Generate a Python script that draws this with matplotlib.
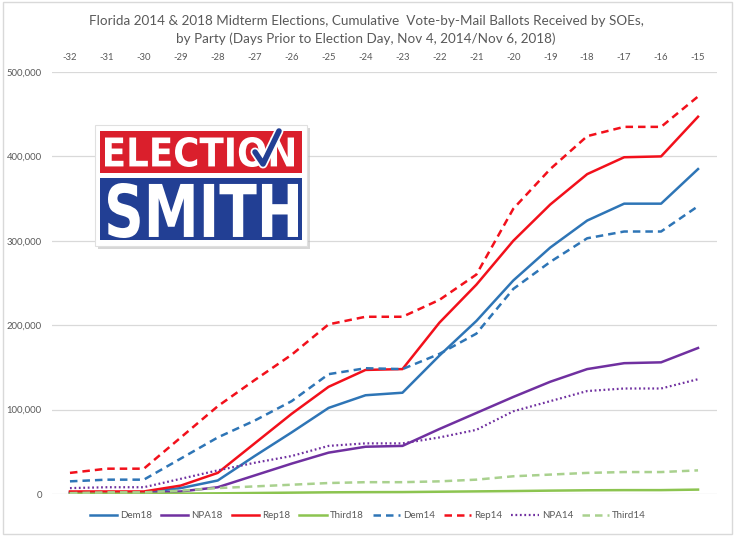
import matplotlib.pyplot as plt
import matplotlib.patches as mpatches
from matplotlib.textpath import TextPath
from matplotlib.font_manager import FontProperties
from matplotlib.transforms import Affine2D
from matplotlib.ticker import FuncFormatter

# days prior to election day
days = [-32, -31, -30, -29, -28, -27, -26, -25, -24, -23, -22, -21, -20, -19, -18, -17, -16, -15]

# cumulative VBM ballots received
dem18 = [2000, 2000, 2000, 7000, 16000, 45000, 73000, 102000, 117000, 120000, 164000, 205000, 253000, 292000, 324000, 344000, 344000, 385000]
npa18 = [1000, 1000, 1000, 3000, 8000, 22000, 36000, 49000, 56000, 57000, 77000, 96000, 115000, 133000, 148000, 155000, 156000, 173000]
rep18 = [3000, 3000, 3000, 10000, 25000, 60000, 95000, 127000, 147000, 148000, 203000, 248000, 300000, 343000, 379000, 399000, 400000, 447000]
third18 = [300, 300, 300, 500, 800, 1200, 1600, 2000, 2200, 2300, 2700, 3100, 3500, 4000, 4400, 4600, 4600, 5200]
dem14 = [15000, 17000, 17000, 42000, 67000, 87000, 110000, 142000, 149000, 148000, 166000, 190000, 243000, 275000, 303000, 311000, 311000, 341000]
rep14 = [25000, 30000, 30000, 67000, 104000, 135000, 165000, 201000, 210000, 210000, 230000, 260000, 338000, 385000, 424000, 435000, 435000, 471000]
npa14 = [7000, 8000, 8000, 18000, 28000, 37000, 45000, 57000, 60000, 60000, 67000, 76000, 98000, 110000, 122000, 125000, 125000, 136000]
third14 = [1000, 2000, 2000, 4000, 7000, 9000, 11000, 13000, 14000, 14000, 15000, 17000, 21000, 23000, 25000, 26000, 26000, 28000]

plt.rcParams['font.family'] = ['Lato', 'DejaVu Sans']

W, H = 736, 537
fig = plt.figure(figsize=(W / 100, H / 100), dpi=100)

# plot area in pixels: x 51.5..716.5, y 72..494
ax = fig.add_axes([51.5 / W, (H - 494) / H, 665 / W, 422 / H])
x = list(range(len(days)))

blue = '#2E75B6'
red = '#F2101B'
purple = '#7030A0'
green = '#8CC450'
lgreen = '#A9D18E'

ax.plot(x, dem18, color=blue, lw=1.8, label='Dem18')
ax.plot(x, npa18, color=purple, lw=1.8, label='NPA18')
ax.plot(x, rep18, color=red, lw=1.8, label='Rep18')
ax.plot(x, third18, color=green, lw=1.8, label='Third18')
ax.plot(x, dem14, color=blue, lw=1.8, dashes=(3, 2), label='Dem14')
ax.plot(x, rep14, color=red, lw=1.8, dashes=(3, 2), label='Rep14')
ax.plot(x, npa14, color=purple, lw=1.6, dashes=(0.8, 1.2), label='NPA14')
ax.plot(x, third14, color=lgreen, lw=1.8, dashes=(3, 2), label='Third14')

ax.set_xlim(-0.5, len(days) - 0.5)
ax.set_ylim(0, 500000)
ax.set_yticks([0, 100000, 200000, 300000, 400000, 500000])
ax.yaxis.set_major_formatter(FuncFormatter(lambda v, p: f'{int(v):,}'))
ax.set_xticks(x)
ax.set_xticklabels([str(d) for d in days])
ax.xaxis.tick_top()
ax.tick_params(axis='both', length=0, labelsize=6.8, colors='#595959')
ax.tick_params(axis='x', pad=7)
ax.tick_params(axis='y', pad=7)
ax.grid(axis='y', color='#D9D9D9', lw=0.9)
ax.set_axisbelow(True)
for s in ax.spines.values():
    s.set_visible(False)

fig.text(366 / W, 1 - 21 / H, 'Florida 2014 & 2018 Midterm Elections, Cumulative  Vote-by-Mail Ballots Received by SOEs,',
         ha='center', va='center', fontsize=9.7, color='#595959')
fig.text(366 / W, 1 - 39 / H, 'by Party (Days Prior to Election Day, Nov 4, 2014/Nov 6, 2018)',
         ha='center', va='center', fontsize=9.7, color='#595959')

fig.legend(loc='center', bbox_to_anchor=(368 / W, 1 - 516 / H), ncol=8, frameon=False,
           fontsize=7, handlelength=2.8, columnspacing=0.95, handletextpad=0.3,
           labelcolor='#595959')

# overlay in pixel coords: chart frame + logo
ov = fig.add_axes([0, 0, 1, 1], zorder=5)
ov.set_xlim(0, W)
ov.set_ylim(H, 0)
ov.axis('off')
ov.patch.set_alpha(0)
ov.add_patch(mpatches.Rectangle((3, 2), 729, 532, fill=False, ec='#D9D9D9', lw=1))

ov.add_patch(mpatches.Rectangle((98, 128), 212, 121, fc='#BDBDBD', ec='none', alpha=0.6))
ov.add_patch(mpatches.Rectangle((95, 125), 212, 121, fc='white', ec='#E0E0E0', lw=0.8))
ov.add_patch(mpatches.Rectangle((100, 131), 202, 42, fc='#DA1F2C', ec='none'))
ov.add_patch(mpatches.Rectangle((100, 178), 202, 62, fc='#223F94', ec='none'))


def fit_text(s, x0, x1, y0, y1):
    fp = FontProperties(family='DejaVu Sans', weight='bold')
    tp = TextPath((0, 0), s, size=10, prop=fp)
    bb = tp.get_extents()
    sx = (x1 - x0) / bb.width
    sy = (y1 - y0) / bb.height
    tr = Affine2D().translate(-bb.x0, -bb.y0).scale(sx, -sy).translate(x0, y1)
    path = tr.transform_path(tp)
    ov.add_patch(mpatches.PathPatch(path, fc='white', ec='none'))


fit_text('ELECTION', 105, 294, 137, 167)
fit_text('SMITH', 108, 298, 183, 238)
# check mark over the O
ov.plot([255, 263, 279], [152, 164, 131], color='white', lw=6.5, solid_capstyle='round', solid_joinstyle='round')
ov.plot([255, 263, 279], [152, 164, 131], color='#223F94', lw=4, solid_capstyle='round', solid_joinstyle='round')

fig.savefig('out.png', dpi=100, facecolor='white')
